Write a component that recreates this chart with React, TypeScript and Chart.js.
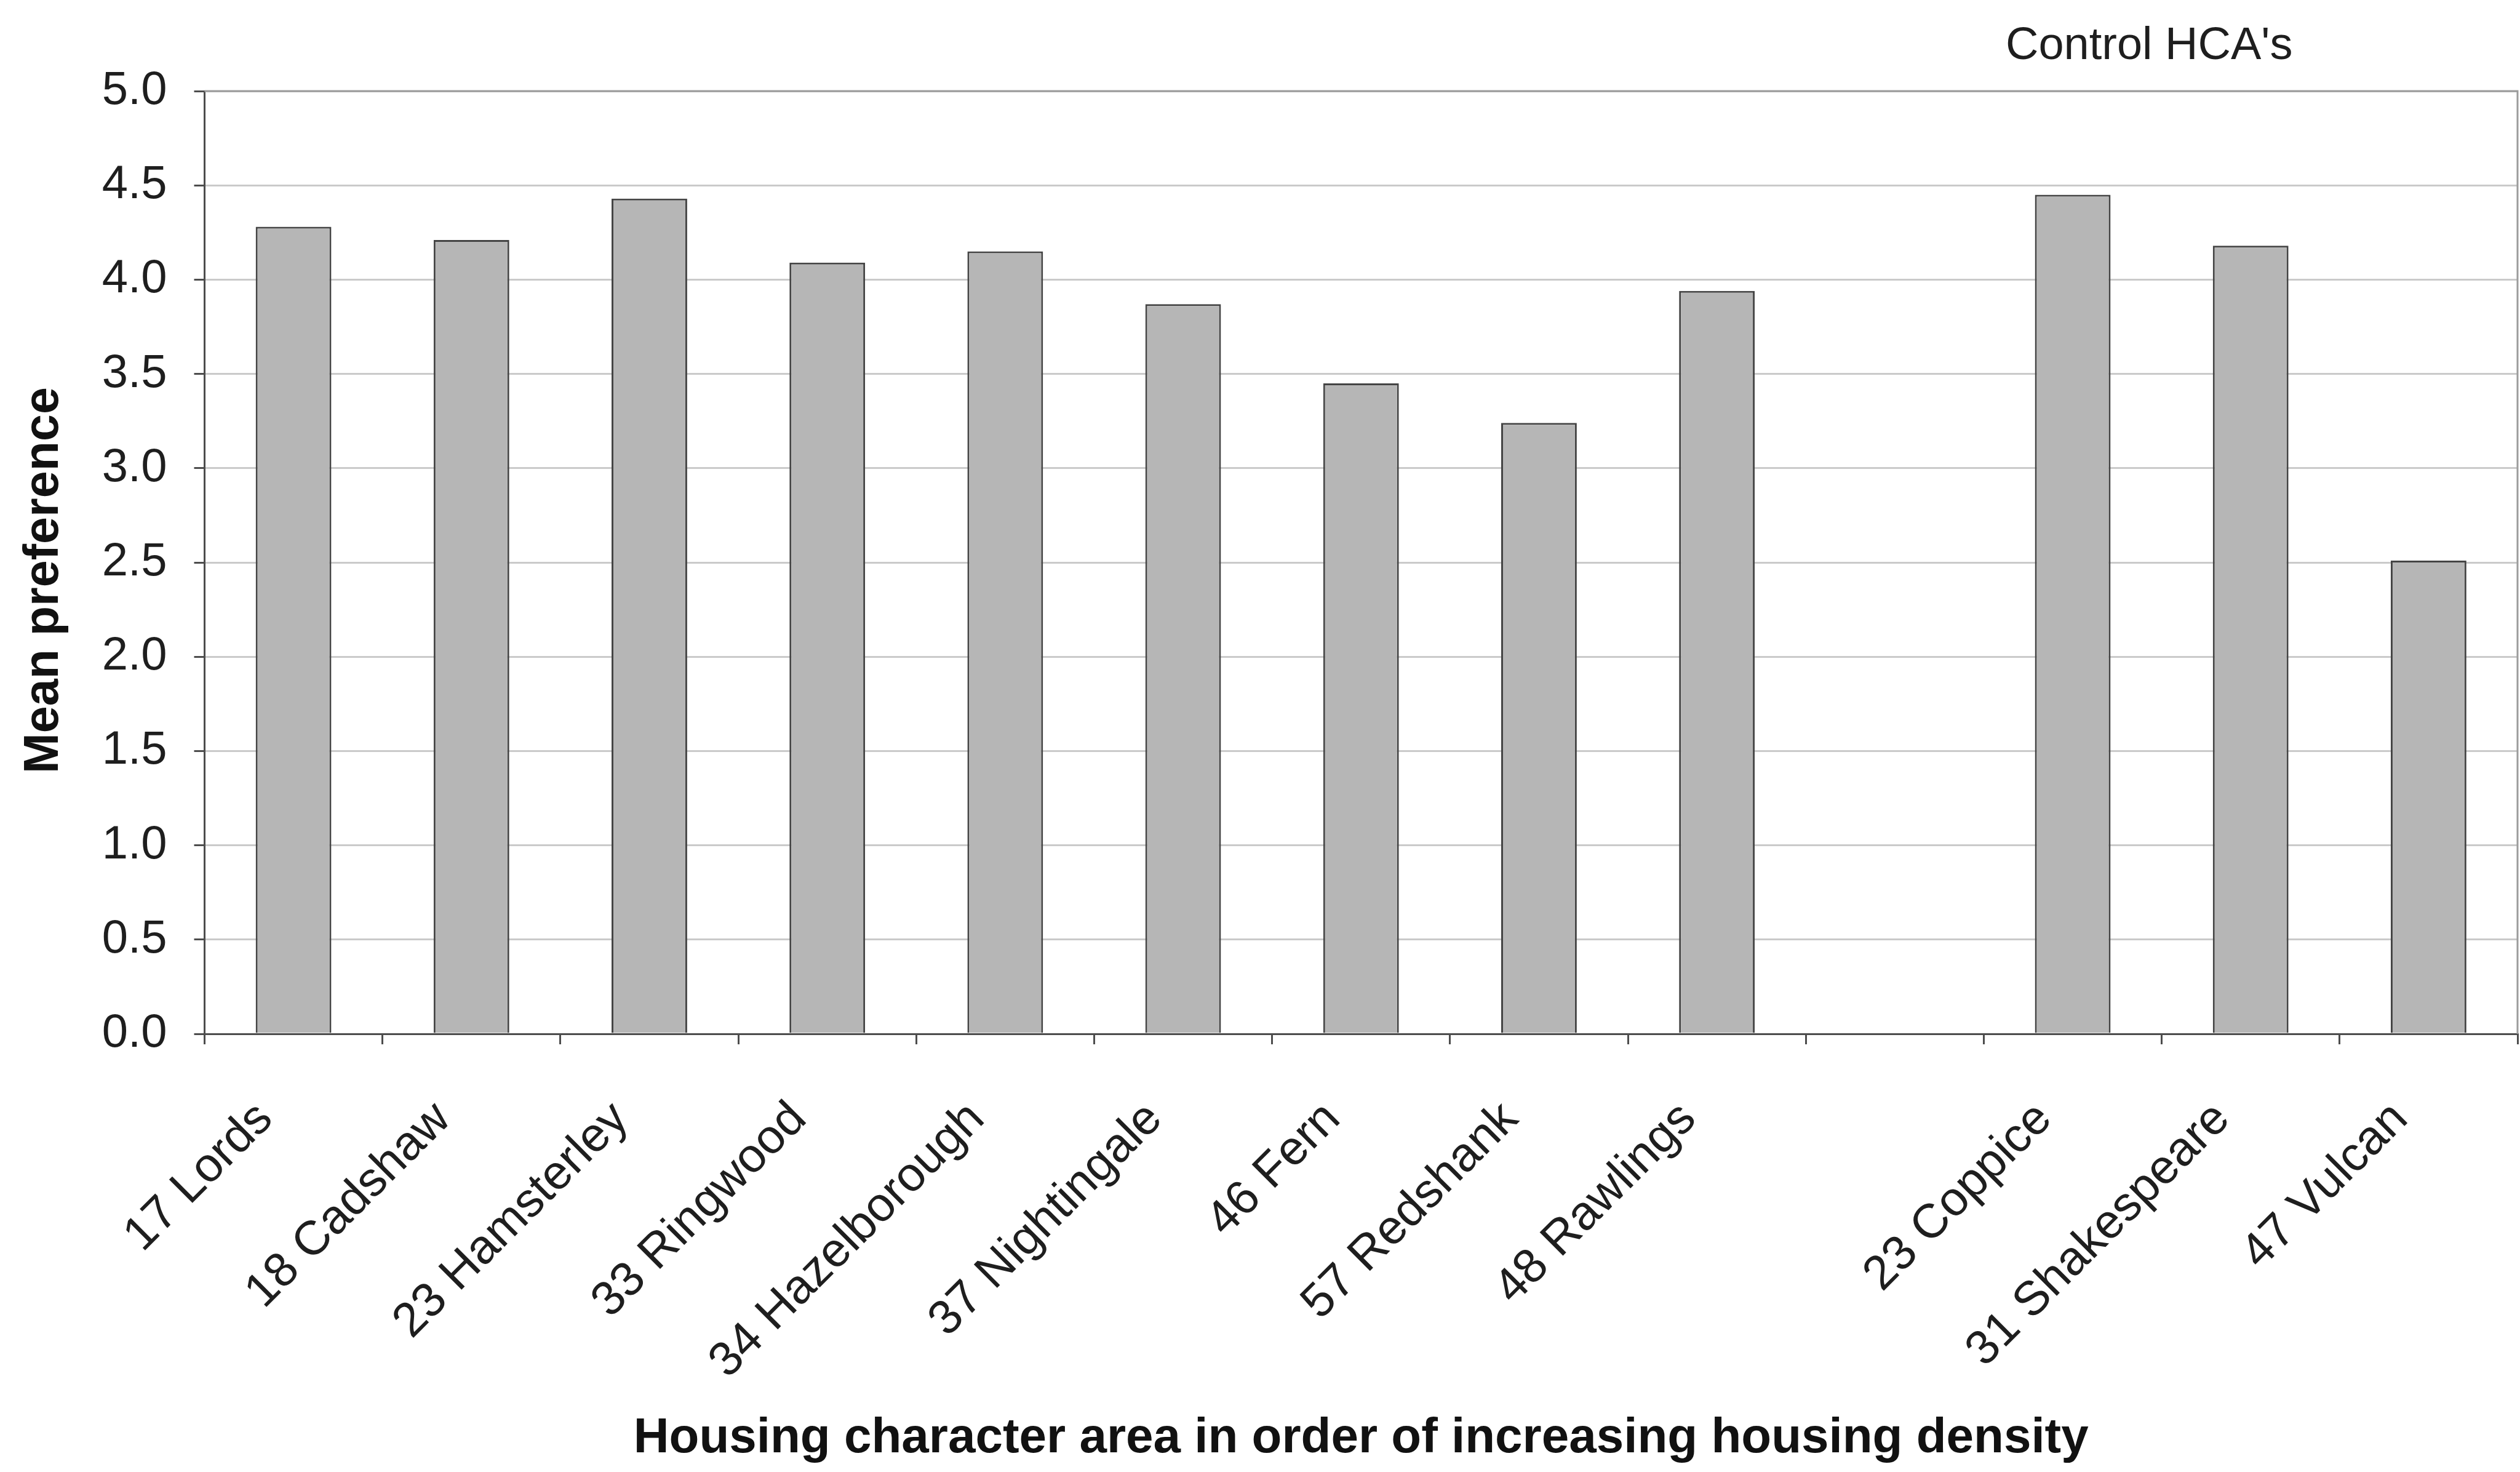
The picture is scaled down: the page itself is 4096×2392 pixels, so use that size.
import React, { useEffect, useRef } from 'react';
import { Chart, registerables } from 'chart.js';

Chart.register(...registerables);

// Housing character areas, in order of increasing housing density; the blank entry separates the control group.
const categories = [
  '17 Lords',
  '18 Cadshaw',
  '23 Hamsterley',
  '33 Ringwood',
  '34 Hazelborough',
  '37 Nightingale',
  '46 Fern',
  '57 Redshank',
  '48 Rawlings',
  '',
  '23 Coppice',
  '31 Shakespeare',
  '47 Vulcan',
];

const meanPreference: (number | null)[] = [4.28, 4.21, 4.43, 4.09, 4.15, 3.87, 3.45, 3.24, 3.94, null, 4.45, 4.18, 2.51];

const yMin = 0;
const yMax = 5;
const yStep = 0.5;

const yAxisTitle = 'Mean preference';
const xAxisTitle = 'Housing character area in order of increasing housing density';
const groupNote = "Control HCA's";

const WIDTH = 4096;
const HEIGHT = 2392;
const FONT = '"Liberation Sans", Arial, Helvetica, sans-serif';
const TEXT = '#1e1e1e';
const AXIS = '#4d4d4d';

// Plot-area frame (top and right edges), the vertical axis title and the control-group note.
const framePlugin = {
  id: 'plotFrame',
  beforeDatasetsDraw(chart: any) {
    const { ctx, chartArea: a } = chart;
    ctx.save();
    ctx.strokeStyle = '#9c9c9c';
    ctx.lineWidth = 3;
    ctx.beginPath();
    ctx.moveTo(a.left, a.top);
    ctx.lineTo(a.right, a.top);
    ctx.lineTo(a.right, a.bottom);
    ctx.stroke();
    ctx.restore();
  },
  afterDraw(chart: any) {
    const { ctx, chartArea: a } = chart;
    ctx.save();
    ctx.fillStyle = TEXT;
    ctx.font = `74px ${FONT}`;
    ctx.textAlign = 'left';
    ctx.textBaseline = 'alphabetic';
    ctx.fillText(groupNote, a.right - 832, 96);
    ctx.restore();

    ctx.save();
    ctx.fillStyle = '#111';
    ctx.font = `bold 79px ${FONT}`;
    ctx.textAlign = 'center';
    ctx.textBaseline = 'middle';
    ctx.translate(72, a.top + (a.bottom - a.top) * 0.519);
    ctx.rotate(-Math.PI / 2);
    ctx.fillText(yAxisTitle, 0, 0);
    ctx.restore();
  },
};

export default function App() {
  const canvasRef = useRef<HTMLCanvasElement | null>(null);

  useEffect(() => {
    const canvas = canvasRef.current;
    if (!canvas) return;

    const chart = new Chart(canvas, {
      type: 'bar',
      data: {
        labels: categories,
        datasets: [
          {
            data: meanPreference,
            backgroundColor: '#b6b6b6',
            borderColor: '#444444',
            borderWidth: 3,
            categoryPercentage: 1,
            barPercentage: 0.425,
          },
        ],
      },
      plugins: [framePlugin],
      options: {
        responsive: false,
        animation: false,
        devicePixelRatio: 1,
        layout: { padding: { left: 0, right: 4, top: 148, bottom: 0 } },
        plugins: {
          legend: { display: false },
          tooltip: { enabled: false },
          title: { display: false },
        },
        scales: {
          x: {
            type: 'category',
            offset: true,
            afterFit(scale: any) {
              scale.height = 712;
            },
            border: { display: true, color: AXIS, width: 3 },
            grid: {
              display: true,
              offset: true,
              drawOnChartArea: false,
              drawTicks: true,
              tickLength: 17,
              color: AXIS,
              lineWidth: 3,
            },
            ticks: {
              autoSkip: false,
              maxRotation: 45,
              minRotation: 45,
              padding: 76,
              labelOffset: -46,
              color: TEXT,
              font: { family: FONT, size: 78 },
            },
            title: {
              display: true,
              text: xAxisTitle,
              color: '#111',
              font: { family: FONT, size: 80, weight: 'bold' },
              padding: { top: 0, bottom: 6 },
            },
          },
          y: {
            min: yMin,
            max: yMax,
            afterFit(scale: any) {
              scale.width = 332.5;
            },
            border: { display: true, color: AXIS, width: 3 },
            grid: {
              color: '#cacaca',
              lineWidth: 3,
              drawTicks: true,
              tickLength: 17,
              tickColor: AXIS,
              tickWidth: 3,
            },
            ticks: {
              stepSize: yStep,
              padding: 44,
              color: TEXT,
              font: { family: FONT, size: 76 },
              callback: (v: any) => Number(v).toFixed(1),
            },
            title: { display: false },
          },
        },
      },
    } as any);

    return () => chart.destroy();
  }, []);

  return (
    <div style={{ position: 'fixed', left: 0, top: 0, width: WIDTH, height: HEIGHT, background: '#ffffff' }}>
      <canvas ref={canvasRef} width={WIDTH} height={HEIGHT} style={{ display: 'block' }} />
    </div>
  );
}
